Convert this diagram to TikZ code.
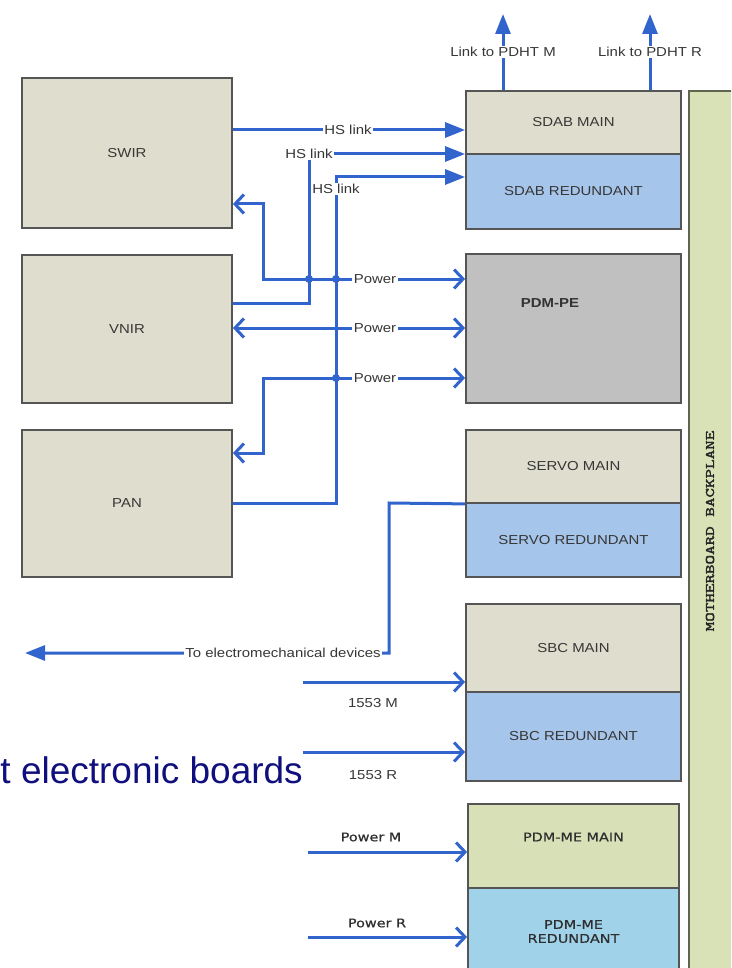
\documentclass[tikz,border=0pt]{standalone}
\usepackage{fontspec}
\setmainfont{Liberation Sans}
\newfontfamily\labf[FakeStretch=1.15]{Liberation Sans}
\newfontfamily\labbf[FakeStretch=1.2,FakeBold=0.6]{DejaVu Sans}
\newfontfamily\bpfont[FakeStretch=1.4,FakeBold=2.5]{lmmono10-regular.otf}
\usetikzlibrary{arrows.meta}
\definecolor{tanf}{RGB}{222,221,206}
\definecolor{bluef}{RGB}{166,197,234}
\definecolor{grayf}{RGB}{192,192,192}
\definecolor{greenf}{RGB}{216,224,184}
\definecolor{cyanf}{RGB}{160,210,234}
\definecolor{bpfill}{RGB}{217,226,183}
\definecolor{bpedge}{RGB}{95,102,80}
\definecolor{bord}{RGB}{85,85,85}
\definecolor{wirec}{RGB}{50,100,205}
\definecolor{txt}{RGB}{55,55,55}
\definecolor{navyc}{RGB}{15,15,125}
\newcommand\labsz{\labf\fontsize{13}{15}\selectfont}
\newcommand\labbsz{\labbf\fontsize{12}{15}\selectfont}
\begin{document}
\begin{tikzpicture}[x=1pt,y=-1pt,
  box/.style={draw=bord,line width=1.8pt,inner sep=0pt,font=\labsz,text=txt,align=center},
  wire/.style={draw=wirec,line width=3pt},
  tri/.style={-{Triangle[length=20pt,width=15pt]}},
  barb/.style={-{Straight Barb[length=9pt,width=19pt]}},
  dbarb/.style={{Straight Barb[length=9pt,width=19pt]}-{Straight Barb[length=9pt,width=19pt]}},
  wl/.style={fill=white,inner sep=1.5pt,font=\labsz,text=txt},
  fl/.style={inner sep=1pt,font=\labsz,text=txt},
  fb/.style={inner sep=1pt,font=\labbsz,text=black!82},
  dot/.style={circle,fill=wirec,inner sep=0pt,minimum size=8pt}]
\useasboundingbox (0,0) rectangle (731,968);
\clip (0,0) rectangle (731,968);
\fill[white] (0,0) rectangle (731,968);

% backplane
\node[fill=bpfill,draw=bpedge,line width=2.2pt,minimum width=60pt,minimum height=900pt,inner sep=0pt] (bp) at (719,541) {};
\node[rotate=90,font=\bpfont\fontsize{13}{15}\selectfont,text=black!85] (bpt) at (710,531) {MOTHERBOARD BACKPLANE};

% instrument boxes
\node[box,fill=tanf,minimum width=210pt,minimum height=150pt] (swir) at (127,153) {SWIR};
\node[box,fill=tanf,minimum width=210pt,minimum height=148pt] (vnir) at (127,329) {VNIR};
\node[box,fill=tanf,minimum width=210pt,minimum height=147pt] (pan) at (127,503.5) {PAN};

% boards
\node[box,fill=tanf,minimum width=215pt,minimum height=63pt] (sdabm) at (573.5,122.5) {SDAB MAIN};
\node[box,fill=bluef,minimum width=215pt,minimum height=75pt] (sdabr) at (573.5,191.5) {SDAB REDUNDANT};
\node[box,fill=grayf,minimum width=215pt,minimum height=149pt] (pdmpe) at (573.5,328.5) {};
\node[inner sep=1pt,font=\labf\fontsize{13}{15}\selectfont\bfseries,text=black!80] (pdmpet) at (550,303) {PDM-PE};
\node[box,fill=tanf,minimum width=215pt,minimum height=73pt] (servom) at (573.5,466.5) {SERVO MAIN};
\node[box,fill=bluef,minimum width=215pt,minimum height=74pt] (servor) at (573.5,540) {SERVO REDUNDANT};
\node[box,fill=tanf,minimum width=215pt,minimum height=88pt] (sbcm) at (573.5,648) {SBC MAIN};
\node[box,fill=bluef,minimum width=215pt,minimum height=89pt] (sbcr) at (573.5,736.5) {SBC REDUNDANT};
\node[box,fill=greenf,minimum width=211pt,minimum height=84pt] (pdmm) at (573.5,846) {};
\node[fb] (pdmmt) at (573.5,837) {PDM-ME MAIN};
\node[box,fill=cyanf,minimum width=211pt,minimum height=87pt,font=\labbsz,text=black!82] (pdmr) at (573.5,931.5) {PDM-ME\\[-1pt]REDUNDANT};

% helper coordinates
\coordinate (t1) at (503,14);
\coordinate (t2) at (650,14);
\coordinate (h1) at (300,130);
\coordinate (h2a) at (309,303);
\coordinate (h2b) at (309,154);
\coordinate (h3a) at (336,503);
\coordinate (h3b) at (336,177);
\coordinate (k1) at (263,279);
\coordinate (k1b) at (263,204);
\coordinate (k2) at (300,328);
\coordinate (k3) at (263,378);
\coordinate (k3b) at (263,453);
\coordinate (e1) at (389,503);
\coordinate (e2) at (389,653);
\coordinate (e3) at (25,653);
\coordinate (s1) at (303,682);
\coordinate (s2) at (303,752);
\coordinate (s3) at (308,852);
\coordinate (s4) at (308,937);

% links up
\draw[wire,tri] (sdabm.north -| t1) -- (t1);
\draw[wire,tri] (sdabm.north -| t2) -- (t2);
% HS links
\draw[wire,tri] (swir.east |- h1) -- (sdabm.west |- h1);
\draw[wire,tri] (vnir.east |- h2a) -- (h2a) -- (h2b) -- (sdabm.west |- h2b);
\draw[wire,tri] (pan.east |- h3a) -- (h3a) -- (h3b) -- (sdabr.west |- h3b);
% power
\draw[wire,dbarb] (swir.east |- k1b) -- (k1b) -- (k1) -- (pdmpe.west |- k1);
\draw[wire,dbarb] (vnir.east |- k2) -- (pdmpe.west |- k2);
\draw[wire,dbarb] (pan.east |- k3b) -- (k3b) -- (k3) -- (pdmpe.west |- k3);
% electromechanical
\draw[wire,tri] (servom.south west) -- (e1) -- (e2) -- (e3);
% bus / power inputs
\draw[wire,barb] (s1) -- (sbcm.west |- s1);
\draw[wire,barb] (s2) -- (sbcr.west |- s2);
\draw[wire,barb] (s3) -- (pdmm.west |- s3);
\draw[wire,barb] (s4) -- (pdmr.west |- s4);

% junction dots
\node[dot] (j1) at (309,279) {};
\node[dot] (j2) at (336,279) {};
\node[dot] (j3) at (336,378) {};

% labels
\node[wl] (lt1) at (503,52) {Link to PDHT M};
\node[wl] (lt2) at (650,52) {Link to PDHT R};
\node[wl] (lh1) at (348,130) {HS link};
\node[wl] (lh2) at (309,154) {HS link};
\node[wl] (lh3) at (336,189) {HS link};
\node[wl] (lp1) at (375,279) {Power};
\node[wl] (lp2) at (375,328) {Power};
\node[wl] (lp3) at (375,378) {Power};
\node[wl] (le) at (283,653) {To electromechanical devices};
\node[fl] (l1553m) at (373,703) {1553 M};
\node[fl] (l1553r) at (373,775) {1553 R};
\node[fb] (lpm) at (371,837) {Power M};
\node[fb] (lpr) at (377,923) {Power R};

% large caption fragment
\node[anchor=east,inner sep=0pt,font=\fontsize{37}{40}\selectfont,text=navyc] (eb) at (303,770) {t electronic boards};
\end{tikzpicture}
\end{document}
